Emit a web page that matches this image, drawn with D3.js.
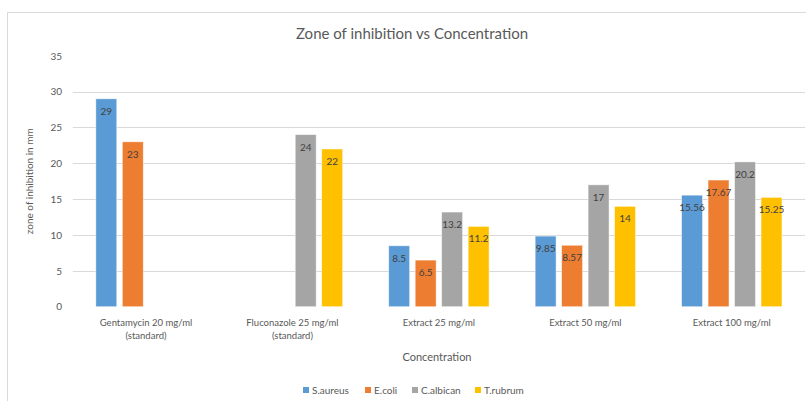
<!DOCTYPE html>
<html>
<head>
<meta charset="utf-8">
<script src="https://cdn.jsdelivr.net/npm/d3@7"></script>
<style>
  body { margin: 0; background: #fff; }
  svg { font-family: Lato, "Open Sans", sans-serif; }
</style>
</head>
<body>
<div id="chart"></div>
<script>
const categories = [
    ["Gentamycin 20 mg/ml", "(standard)"],
    ["Fluconazole 25 mg/ml", "(standard)"],
    ["Extract 25 mg/ml"],
    ["Extract 50 mg/ml"],
    ["Extract 100 mg/ml"]
];
const seriesNames = ["S.aureus", "E.coli", "C.albican", "T.rubrum"];
const colors = ["#5B9BD5", "#ED7D31", "#A5A5A5", "#FFC000"];

const sAureus  = [29, null, 8.5, 9.85, 15.56];
const eColi    = [23, null, 6.5, 8.57, 17.67];
const cAlbican = [null, 24, 13.2, 17, 20.2];
const tRubrum  = [null, 22, 11.2, 14, 15.25];
const seriesValues = [sAureus, eColi, cAlbican, tRubrum];

const yTicks = [5, 10, 15, 20, 25, 30];
const yLabels = [0, 5, 10, 15, 20, 25, 30, 35];

const width = 806, height = 401;
const plot = { left: 72.8, right: 805, top: 55.8, bottom: 306.7 };

const svg = d3.select("#chart")
    .append("svg")
    .attr("width", width)
    .attr("height", height);

// chart area border (cropped on the right and bottom)
svg.append("path")
    .attr("d", `M7.5,${height} V12.5 H${width}`)
    .attr("fill", "none")
    .attr("stroke", "#d9d9d9");

const catIdx = d3.range(categories.length);
const x0 = d3.scaleBand().domain(catIdx).range([plot.left, plot.right]);
const x1 = d3.scaleBand().domain(d3.range(seriesNames.length))
    .range([0, x0.bandwidth()]).paddingInner(0.21).paddingOuter(0.87);
const y = d3.scaleLinear().domain([0, 35]).range([plot.bottom, plot.top]);

// gridlines
svg.append("g")
    .selectAll("line")
    .data(yTicks)
    .enter()
    .append("line")
    .attr("x1", plot.left)
    .attr("x2", plot.right)
    .attr("y1", d => Math.round(y(d)) + 0.5)
    .attr("y2", d => Math.round(y(d)) + 0.5)
    .attr("stroke", "#d9d9d9");

// y axis labels
const yAxis = d3.axisLeft(y).tickValues(yLabels).tickSize(0).tickPadding(0);
svg.append("g")
    .attr("transform", `translate(62,0)`)
    .call(yAxis)
    .call(g => g.select(".domain").remove())
    .selectAll("text")
    .attr("font-family", "Lato, sans-serif")
    .attr("font-size", 10)
    .attr("fill", "#595959");

// bars
const bars = [];
seriesValues.forEach((vals, s) => {
    vals.forEach((v, c) => {
        if (v !== null) bars.push({ s, c, v });
    });
});

const barGroup = svg.append("g");
barGroup.selectAll("rect")
    .data(bars)
    .enter()
    .append("rect")
    .attr("x", d => x0(d.c) + x1(d.s))
    .attr("y", d => y(d.v))
    .attr("width", x1.bandwidth())
    .attr("height", d => y(0) - y(d.v))
    .attr("fill", d => colors[d.s])
    .attr("stroke", "#fff")
    .attr("stroke-opacity", 0.6)
    .attr("stroke-width", 0.75);

barGroup.selectAll("text")
    .data(bars)
    .enter()
    .append("text")
    .attr("x", d => x0(d.c) + x1(d.s) + x1.bandwidth() / 2)
    .attr("y", d => y(d.v) + 16)
    .attr("text-anchor", "middle")
    .attr("font-size", 10)
    .attr("fill", "#404040")
    .text(d => d.v);

// category labels
const catGroup = svg.append("g");
categories.forEach((lines, c) => {
    lines.forEach((t, i) => {
        catGroup.append("text")
            .attr("x", x0(c) + x0.bandwidth() / 2)
            .attr("y", 326 + i * 13)
            .attr("text-anchor", "middle")
            .attr("font-size", 9.5)
            .attr("fill", "#595959")
            .text(t);
    });
});

// titles
svg.append("text")
    .attr("x", 412)
    .attr("y", 39)
    .attr("text-anchor", "middle")
    .attr("font-size", 15)
    .attr("fill", "#595959")
    .text("Zone of inhibition vs Concentration");

svg.append("text")
    .attr("x", 437)
    .attr("y", 361)
    .attr("text-anchor", "middle")
    .attr("font-size", 11)
    .attr("fill", "#595959")
    .text("Concentration");

svg.append("text")
    .attr("transform", `translate(33,${(plot.top + plot.bottom) / 2}) rotate(-90)`)
    .attr("text-anchor", "middle")
    .attr("font-size", 10)
    .attr("fill", "#595959")
    .text("zone of inhibition in mm");

// legend
const legendX = [303, 365, 412, 475];
const legend = svg.append("g")
    .selectAll("g")
    .data(seriesNames)
    .enter()
    .append("g")
    .attr("transform", (d, i) => `translate(${legendX[i]},387)`);

legend.append("rect")
    .attr("width", 6)
    .attr("height", 6)
    .attr("fill", (d, i) => colors[i]);

legend.append("text")
    .attr("x", 9)
    .attr("y", 6.5)
    .attr("font-size", 10)
    .attr("fill", "#595959")
    .text(d => d);
</script>
</body>
</html>
